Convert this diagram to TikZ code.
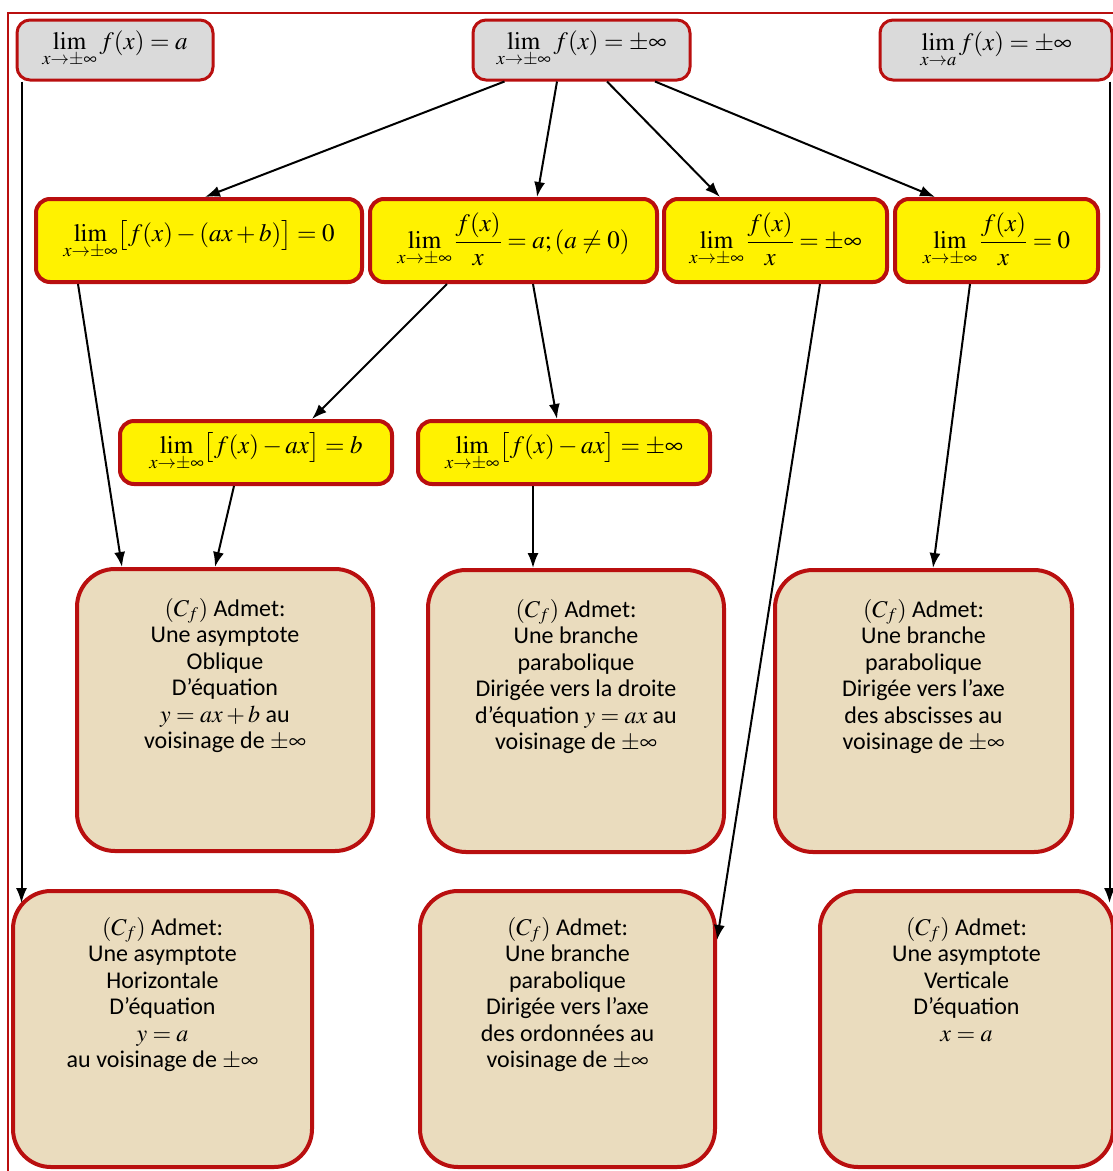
\documentclass[tikz,border=0pt]{standalone}
\usepackage{amsmath}
\usepackage{mathptmx}
\usepackage{fontspec}
\setmainfont{Carlito}
\usepackage{tikz}
\usetikzlibrary{calc, shapes, arrows.meta}

\definecolor{rougebord}{RGB}{185,15,15}
\definecolor{grisclair}{RGB}{218,218,218}
\definecolor{beige}{RGB}{234,220,190}

\newcommand{\texteboite}[1]{\parbox[c][224pt][t]{290pt}{\centering #1}}

\begin{document}
\begin{tikzpicture}[x=1pt,y=-1pt,
    haut/.style={draw=rougebord, line width=3pt, fill=grisclair, rounded corners=13pt,
        minimum height=60pt, inner sep=0pt, font=\fontsize{25}{28}\selectfont},
    limite/.style={draw=rougebord, line width=4pt, fill=yellow, rounded corners=14pt,
        minimum height=83pt, inner sep=0pt, font=\fontsize{25}{28}\selectfont},
    resultat/.style={draw=rougebord, line width=4pt, fill=beige, rounded corners=38pt,
        minimum height=282pt, inner sep=0pt, font=\fontsize{24}{26.5}\selectfont},
    fleche/.style={-{Latex[length=15pt,width=11pt]}, line width=2pt}]
    \useasboundingbox (0,0) rectangle (1113,1171);
    \fill[white] (0,0) rectangle (1113,1171);
    \draw[rougebord, line width=2pt] (8,13) rectangle (1130,1190);

    % ligne du haut
    \node[haut, minimum width=196pt] (a1) at (115,50)
        {$\displaystyle\lim_{x\to\pm\infty} f(x)=a$};
    \node[haut, minimum width=217pt] (a2) at (581.5,50)
        {$\displaystyle\lim_{x\to\pm\infty} f(x)=\pm\infty$};
    \node[haut, minimum width=232pt] (a3) at (996,50)
        {$\displaystyle\lim_{x\to a} f(x)=\pm\infty$};

    % limites en jaune
    \node[limite, minimum width=326pt] (b1) at (199,240.5)
        {$\displaystyle\lim_{x\to\pm\infty}\bigl[f(x)-(ax+b)\bigr]=0$};
    \node[limite, minimum width=287pt] (b2) at (513.5,240.5)
        {$\displaystyle\lim_{x\to\pm\infty}\frac{f(x)}{x}=a;(a\neq 0)$};
    \node[limite, minimum width=223pt] (b3) at (775.5,240.5)
        {$\displaystyle\lim_{x\to\pm\infty}\frac{f(x)}{x}=\pm\infty$};
    \node[limite, minimum width=203pt] (b4) at (996.5,240.5)
        {$\displaystyle\lim_{x\to\pm\infty}\frac{f(x)}{x}=0$};
    \node[limite, minimum height=63pt, minimum width=272pt] (c1) at (256,452.5)
        {$\displaystyle\lim_{x\to\pm\infty}\bigl[f(x)-ax\bigr]=b$};
    \node[limite, minimum height=63pt, minimum width=292pt] (c2) at (564,452.5)
        {$\displaystyle\lim_{x\to\pm\infty}\bigl[f(x)-ax\bigr]=\pm\infty$};

    % conclusions
    \node[resultat, minimum width=296pt] (d1) at (225,710) {\texteboite{%
        $(C_f)$ Admet:\\ Une asymptote\\ Oblique\\ D’équation\\
        $y=ax+b$ au\\ voisinage de $\pm\infty$}};
    \node[resultat, minimum width=296pt] (d2) at (576,711) {\texteboite{%
        $(C_f)$ Admet:\\ Une branche\\ parabolique\\ Dirigée vers la droite\\
        d’équation $y=ax$ au\\ voisinage de $\pm\infty$}};
    \node[resultat, minimum width=297pt] (d3) at (923.5,711) {\texteboite{%
        $(C_f)$ Admet:\\ Une branche\\ parabolique\\ Dirigée vers l’axe\\
        des abscisses au\\ voisinage de $\pm\infty$}};
    \node[resultat, minimum width=299pt, minimum height=276pt] (e1) at (162.5,1029) {\texteboite{%
        $(C_f)$ Admet:\\ Une asymptote\\ Horizontale\\ D’équation\\
        $y=a$\\ au voisinage de $\pm\infty$}};
    \node[resultat, minimum width=295pt, minimum height=276pt] (e2) at (567.5,1029) {\texteboite{%
        $(C_f)$ Admet:\\ Une branche\\ parabolique\\ Dirigée vers l’axe\\
        des ordonnées au\\ voisinage de $\pm\infty$}};
    \node[resultat, minimum width=293pt, minimum height=276pt] (e3) at (966.5,1029) {\texteboite{%
        $(C_f)$ Admet:\\ Une asymptote\\ Verticale\\ D’équation\\ $x=a$}};

    % fleches
    \draw[fleche] ([xshift=-77pt]a2.south) -- ([xshift=6pt]b1.north);
    \draw[fleche] ([xshift=-24.5pt]a2.south) -- ([xshift=23.5pt]b2.north);
    \draw[fleche] ([xshift=25.5pt]a2.south) -- ([xshift=-55.5pt]b3.north);
    \draw[fleche] ([xshift=73.5pt]a2.south) -- ([xshift=-61.5pt]b4.north);
    \draw[fleche] ([xshift=6pt]a1.south west) -- ($(a1.south west |- e1.north)+(6,14)$);
    \draw[fleche] ([xshift=-4pt]a3.south east) -- ($(a3.south east |- e3.north)+(-4,14)$);
    \draw[fleche] ([xshift=-121pt]b1.south) -- ([xshift=-103pt]d1.north);
    \draw[fleche] ([xshift=-66.5pt]b2.south) -- ([xshift=56pt]c1.north);
    \draw[fleche] ([xshift=19.5pt]b2.south) -- ([xshift=-7pt]c2.north);
    \draw[fleche] ([xshift=-22pt]c1.south) -- ([xshift=-10pt]d1.north);
    \draw[fleche] ([xshift=-31pt]c2.south) -- ([xshift=-43pt]d2.north);
    \draw[fleche] ([xshift=44.5pt]b3.south) -- ([yshift=89pt]e2.east);
    \draw[fleche] ([xshift=-26.5pt]b4.south) -- ([xshift=9.5pt]d3.north);
\end{tikzpicture}
\end{document}
